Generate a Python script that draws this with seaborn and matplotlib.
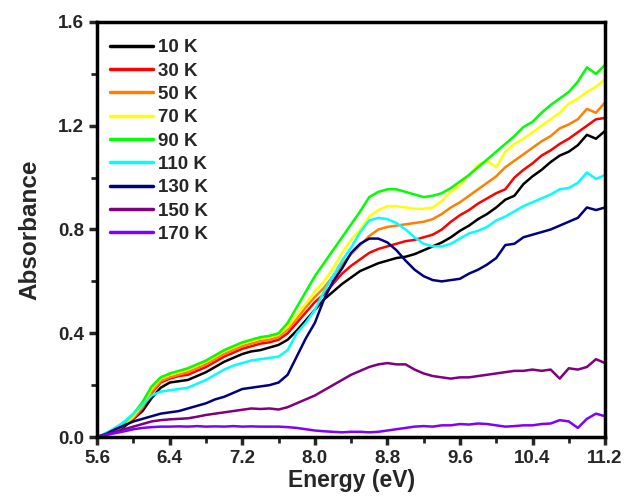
import numpy as np
import pandas as pd
import matplotlib
matplotlib.use("Agg")
import matplotlib.pyplot as plt
from matplotlib.ticker import MultipleLocator, FormatStrFormatter
import seaborn as sns

# Photon energy grid (eV)
energy = np.round(np.linspace(5.6, 11.2, 57), 2)

temperatures = ["10 K", "30 K", "50 K", "70 K", "90 K", "110 K", "130 K", "150 K", "170 K"]
colors = ["#000000", "#FF0000", "#FF8000", "#FFFF00", "#00FF00",
          "#00FFFF", "#000080", "#800080", "#8000FF"]

abs_10K = [0.00, 0.01, 0.02, 0.04, 0.07, 0.10, 0.15, 0.19, 0.21, 0.215,
           0.22, 0.235, 0.25, 0.27, 0.29, 0.305, 0.32, 0.33, 0.335, 0.345,
           0.355, 0.375, 0.41, 0.45, 0.49, 0.53, 0.56, 0.59, 0.615, 0.64,
           0.655, 0.67, 0.68, 0.69, 0.695, 0.705, 0.72, 0.735, 0.75, 0.77,
           0.795, 0.815, 0.84, 0.86, 0.885, 0.915, 0.93, 0.975, 1.005, 1.03,
           1.06, 1.085, 1.10, 1.125, 1.165, 1.15, 1.18]
abs_30K = [0.00, 0.01, 0.025, 0.045, 0.07, 0.11, 0.17, 0.21, 0.225, 0.235,
           0.24, 0.255, 0.27, 0.29, 0.31, 0.325, 0.34, 0.35, 0.36, 0.365,
           0.375, 0.40, 0.44, 0.48, 0.52, 0.55, 0.59, 0.63, 0.66, 0.685,
           0.71, 0.725, 0.735, 0.745, 0.755, 0.76, 0.77, 0.78, 0.80, 0.83,
           0.855, 0.875, 0.90, 0.92, 0.94, 0.955, 1.00, 1.03, 1.055, 1.085,
           1.105, 1.13, 1.15, 1.175, 1.20, 1.225, 1.23]
abs_50K = [0.00, 0.01, 0.025, 0.045, 0.075, 0.115, 0.175, 0.215, 0.23, 0.24,
           0.25, 0.265, 0.28, 0.30, 0.32, 0.335, 0.35, 0.36, 0.37, 0.375,
           0.385, 0.415, 0.455, 0.50, 0.54, 0.575, 0.62, 0.665, 0.705, 0.74,
           0.775, 0.80, 0.81, 0.815, 0.82, 0.825, 0.83, 0.84, 0.86, 0.885,
           0.905, 0.93, 0.955, 0.98, 1.005, 1.04, 1.065, 1.09, 1.115, 1.14,
           1.16, 1.19, 1.205, 1.225, 1.265, 1.25, 1.29]
abs_70K = [0.00, 0.012, 0.03, 0.05, 0.08, 0.125, 0.185, 0.225, 0.24, 0.25,
           0.26, 0.275, 0.29, 0.31, 0.33, 0.345, 0.36, 0.37, 0.38, 0.385,
           0.395, 0.425, 0.47, 0.515, 0.56, 0.60, 0.65, 0.71, 0.76, 0.80,
           0.85, 0.875, 0.89, 0.89, 0.885, 0.88, 0.88, 0.885, 0.91, 0.945,
           0.97, 1.01, 1.05, 1.065, 1.04, 1.10, 1.13, 1.15, 1.175, 1.20,
           1.225, 1.25, 1.285, 1.305, 1.33, 1.35, 1.38]
abs_90K = [0.00, 0.015, 0.035, 0.055, 0.09, 0.135, 0.195, 0.23, 0.245, 0.255,
           0.265, 0.28, 0.295, 0.315, 0.335, 0.35, 0.365, 0.375, 0.385, 0.39,
           0.40, 0.44, 0.50, 0.56, 0.62, 0.67, 0.72, 0.77, 0.82, 0.87,
           0.925, 0.945, 0.955, 0.955, 0.945, 0.935, 0.925, 0.93, 0.94, 0.96,
           0.985, 1.01, 1.04, 1.07, 1.10, 1.13, 1.16, 1.195, 1.215, 1.25,
           1.28, 1.305, 1.33, 1.37, 1.425, 1.40, 1.435]
abs_110K = [0.00, 0.015, 0.035, 0.06, 0.09, 0.125, 0.16, 0.175, 0.18, 0.185,
            0.19, 0.205, 0.22, 0.24, 0.26, 0.275, 0.285, 0.295, 0.30, 0.305,
            0.31, 0.335, 0.40, 0.44, 0.49, 0.56, 0.62, 0.68, 0.73, 0.79,
            0.835, 0.845, 0.84, 0.825, 0.80, 0.77, 0.745, 0.735, 0.735, 0.745,
            0.765, 0.785, 0.795, 0.81, 0.835, 0.85, 0.87, 0.89, 0.905, 0.92,
            0.935, 0.955, 0.96, 0.98, 1.02, 0.995, 1.01]
abs_130K = [0.00, 0.012, 0.03, 0.045, 0.06, 0.07, 0.08, 0.09, 0.095, 0.10,
            0.11, 0.12, 0.13, 0.145, 0.155, 0.17, 0.185, 0.19, 0.195, 0.20,
            0.21, 0.24, 0.31, 0.38, 0.44, 0.53, 0.60, 0.65, 0.71, 0.745,
            0.765, 0.765, 0.75, 0.72, 0.68, 0.645, 0.62, 0.605, 0.60, 0.605,
            0.61, 0.63, 0.645, 0.665, 0.69, 0.74, 0.745, 0.77, 0.78, 0.79,
            0.80, 0.815, 0.83, 0.845, 0.885, 0.875, 0.885]
abs_150K = [0.00, 0.01, 0.02, 0.03, 0.04, 0.05, 0.06, 0.065, 0.068, 0.07,
            0.072, 0.078, 0.085, 0.09, 0.095, 0.10, 0.105, 0.11, 0.108, 0.11,
            0.106, 0.115, 0.13, 0.145, 0.16, 0.18, 0.20, 0.22, 0.24, 0.255,
            0.27, 0.28, 0.285, 0.28, 0.28, 0.26, 0.245, 0.235, 0.23, 0.225,
            0.23, 0.23, 0.235, 0.24, 0.245, 0.25, 0.255, 0.255, 0.26, 0.255,
            0.26, 0.225, 0.265, 0.26, 0.27, 0.30, 0.285]
abs_170K = [0.00, 0.008, 0.015, 0.022, 0.03, 0.035, 0.038, 0.04, 0.04, 0.041,
            0.04, 0.042, 0.04, 0.041, 0.04, 0.042, 0.04, 0.041, 0.04, 0.04,
            0.04, 0.038, 0.035, 0.03, 0.025, 0.022, 0.02, 0.018, 0.02, 0.02,
            0.018, 0.02, 0.025, 0.03, 0.035, 0.04, 0.042, 0.04, 0.045, 0.045,
            0.05, 0.048, 0.052, 0.05, 0.045, 0.04, 0.042, 0.045, 0.045, 0.05,
            0.052, 0.065, 0.06, 0.035, 0.07, 0.09, 0.08]

series = [abs_10K, abs_30K, abs_50K, abs_70K, abs_90K,
          abs_110K, abs_130K, abs_150K, abs_170K]

df = pd.concat(
    [pd.DataFrame({"Energy": energy, "Absorbance": vals, "T": t})
     for t, vals in zip(temperatures, series)],
    ignore_index=True,
)

sns.set_style("ticks")
plt.rcParams["font.family"] = ["Liberation Sans", "DejaVu Sans"]
plt.rcParams["font.weight"] = "bold"

fig = plt.figure(figsize=(6.27, 5.0), dpi=100)
ax = fig.add_axes([0.155, 0.126, 0.81, 0.830])

sns.lineplot(data=df, x="Energy", y="Absorbance", hue="T",
             hue_order=temperatures, palette=colors, linewidth=1.8,
             ax=ax, legend=True)

ax.set_xlim(5.6, 11.2)
ax.set_ylim(0.0, 1.6)
ax.xaxis.set_major_locator(MultipleLocator(0.8))
ax.xaxis.set_minor_locator(MultipleLocator(0.4))
ax.yaxis.set_major_locator(MultipleLocator(0.4))
ax.yaxis.set_minor_locator(MultipleLocator(0.2))
ax.xaxis.set_major_formatter(FormatStrFormatter("%.1f"))
ax.yaxis.set_major_formatter(FormatStrFormatter("%.1f"))

for s in ax.spines.values():
    s.set_linewidth(2.5)
    s.set_color("black")
ax.tick_params(which="major", direction="out", length=6, width=2.5,
               labelsize=13.5, top=False, right=False)
ax.tick_params(which="minor", direction="out", length=4, width=2.0,
               top=False, right=False)
for lab in ax.get_xticklabels() + ax.get_yticklabels():
    lab.set_fontweight("bold")

ax.set_xlabel("Energy (eV)", fontsize=16.5, fontweight="bold", labelpad=1)
ax.set_ylabel("Absorbance", fontsize=17.5, fontweight="bold", labelpad=12)

leg = ax.legend(loc="upper left", frameon=False, fontsize=13.5,
                handlelength=2.3, handletextpad=0.27, labelspacing=0.33,
                borderaxespad=0.3, bbox_to_anchor=(0.0, 0.99))
for line in leg.get_lines():
    line.set_linewidth(2.5)
for txt in leg.get_texts():
    txt.set_fontweight("bold")

fig.savefig("out.png", dpi=100)
